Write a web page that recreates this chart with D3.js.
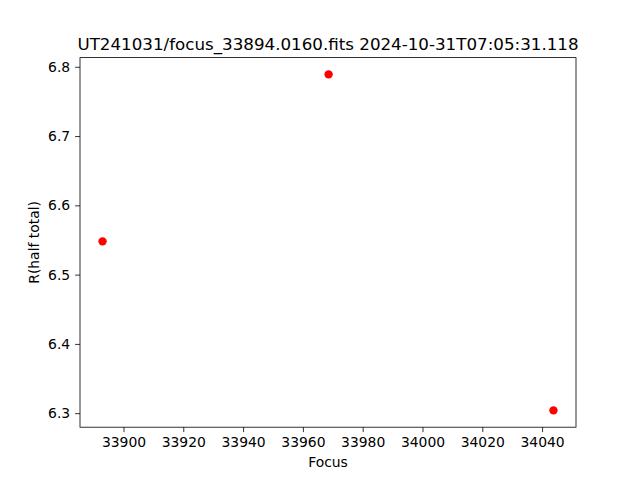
<!DOCTYPE html>
<html>
<head>
<meta charset="utf-8">
<script src="https://cdn.jsdelivr.net/npm/d3@7"></script>
<style>
  body { margin: 0; background: #fff; }
  svg text { font-family: "DejaVu Sans", sans-serif; fill: #000; }
  .axis path, .axis line { stroke: #000; stroke-width: 0.8px; }
  .axis text { font-size: 13.9px; }
</style>
</head>
<body>
<script>
(function() {
  var width = 640;
  var height = 480;
  var margin = { left: 80, right: 64, top: 57.6, bottom: 52.8 };

  var title = 'UT241031/focus_33894.0160.fits 2024-10-31T07:05:31.118';
  var focus = [33893.0, 33968.6, 34043.8];
  var rHalf = [6.548, 6.789, 6.304];
  var xTicks = [33900, 33920, 33940, 33960, 33980, 34000, 34020, 34040];
  var yTicks = [6.3, 6.4, 6.5, 6.6, 6.7, 6.8];

  var points = focus.map((f, i) => ({ x: f, y: rHalf[i] }));

  // matplotlib style 5% margins
  function padded(ext) {
    var p = (ext[1] - ext[0]) * 0.05;
    return [ext[0] - p, ext[1] + p];
  }

  var xScale = d3
    .scaleLinear()
    .domain(padded(d3.extent(focus)))
    .range([margin.left, width - margin.right]);

  var yScale = d3
    .scaleLinear()
    .domain(padded(d3.extent(rHalf)))
    .range([height - margin.bottom, margin.top]);

  var svg = d3.select('body')
    .append('svg')
    .attr('width', width)
    .attr('height', height);

  svg.append('g')
    .selectAll('circle')
    .data(points)
    .enter()
    .append('circle')
    .attr('cx', d => xScale(d.x))
    .attr('cy', d => yScale(d.y))
    .attr('r', 4.2)
    .attr('fill', '#ff0000');

  svg.append('g')
    .attr('class', 'x axis')
    .attr('transform', `translate(0, ${height - margin.bottom})`)
    .call(d3.axisBottom(xScale).tickValues(xTicks).tickFormat(d3.format('d')).tickSizeInner(4.9).tickSizeOuter(0).tickPadding(4.9));

  svg.append('g')
    .attr('class', 'y axis')
    .attr('transform', `translate(${margin.left}, 0)`)
    .call(d3.axisLeft(yScale).tickValues(yTicks).tickFormat(d3.format('.1f')).tickSizeInner(4.9).tickSizeOuter(0).tickPadding(4.9));

  svg.selectAll('.axis .domain').remove();

  // frame
  svg.append('rect')
    .attr('x', margin.left)
    .attr('y', margin.top)
    .attr('width', width - margin.left - margin.right)
    .attr('height', height - margin.top - margin.bottom)
    .attr('fill', 'none')
    .attr('stroke', '#000')
    .attr('stroke-width', 0.8);

  svg.append('text')
    .attr('x', (margin.left + width - margin.right) / 2)
    .attr('y', margin.top - 8)
    .attr('text-anchor', 'middle')
    .style('font-size', '16.7px')
    .text(title);

  svg.append('text')
    .attr('x', (margin.left + width - margin.right) / 2)
    .attr('y', 467)
    .attr('text-anchor', 'middle')
    .style('font-size', '13.9px')
    .text('Focus');

  svg.append('text')
    .attr('transform', `translate(39, ${(margin.top + height - margin.bottom) / 2}) rotate(-90)`)
    .attr('text-anchor', 'middle')
    .style('font-size', '13.9px')
    .text('R(half total)');
})();
</script>
</body>
</html>
